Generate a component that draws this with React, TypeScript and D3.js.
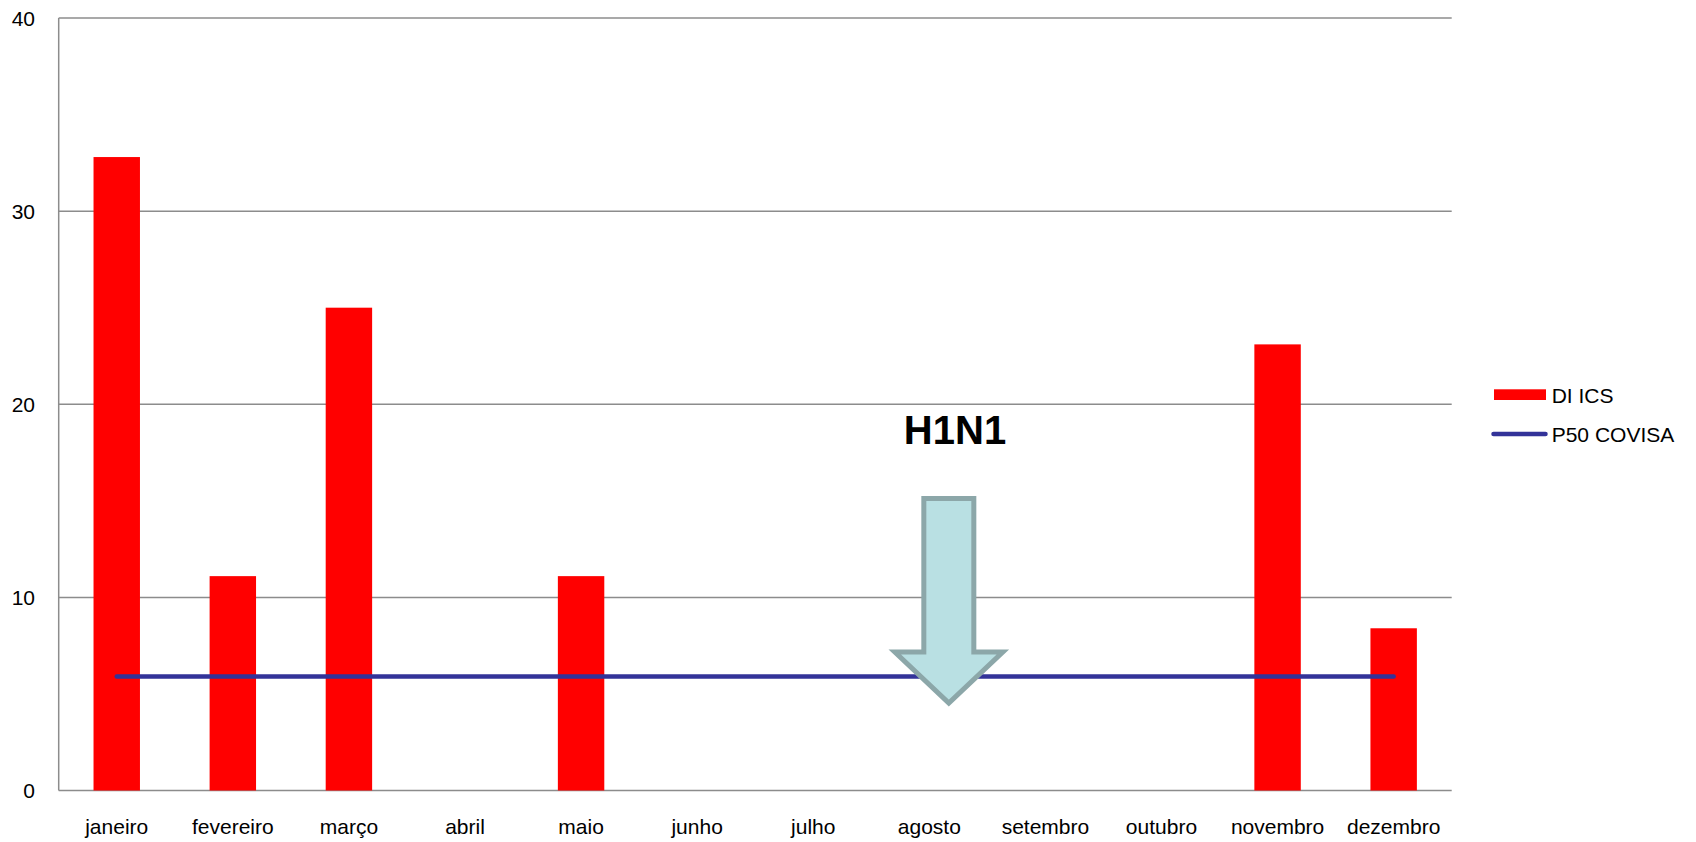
import React from "react";
import * as d3 from "d3";

const months = [
  "janeiro", "fevereiro", "março", "abril", "maio", "junho",
  "julho", "agosto", "setembro", "outubro", "novembro", "dezembro",
];
const diIcs = [32.8, 11.1, 25.0, 0, 11.1, 0, 0, 0, 0, 0, 23.1, 8.4];
const p50Covisa = [5.9, 5.9, 5.9, 5.9, 5.9, 5.9, 5.9, 5.9, 5.9, 5.9, 5.9, 5.9];
const yTicks = [0, 10, 20, 30, 40];
const seriesNames = ["DI ICS", "P50 COVISA"];
const annotationLabel = "H1N1";
const annotationMonth = "agosto";

const W = 1696;
const H = 842;
const M = { left: 58.7, right: 1451.7, top: 18, bottom: 790.5 };
const FONT = "'Liberation Sans', Arial, sans-serif";

export default function App() {
  const x = d3
    .scaleBand<string>()
    .domain(months)
    .range([M.left, M.right])
    .paddingInner(0.6)
    .paddingOuter(0.3);
  const band = d3.scaleBand<string>().domain(months).range([M.left, M.right]);
  const y = d3.scaleLinear().domain([0, 40]).range([M.bottom, M.top]);
  const cx = (m: string) => (band(m) as number) + band.bandwidth() / 2;

  const line = d3
    .line<number>()
    .x((_, i) => cx(months[i]))
    .y((d) => y(d));

  // Downward block arrow near the annotated month
  const ax = cx(annotationMonth) + 19.5;
  const shaftHalf = 25;
  const headHalf = 54;
  const shaftTop = 498.5;
  const headTop = 652;
  const tip = 703;
  const arrowPath = [
    [ax - shaftHalf, shaftTop],
    [ax + shaftHalf, shaftTop],
    [ax + shaftHalf, headTop],
    [ax + headHalf, headTop],
    [ax, tip],
    [ax - headHalf, headTop],
    [ax - shaftHalf, headTop],
  ];

  return (
    <svg
      width={W}
      height={H}
      style={{ position: "absolute", left: 0, top: 0, background: "#fff" }}
      fontFamily={FONT}
    >
      {/* gridlines */}
      {yTicks.map((t) => (
        <line
          key={t}
          x1={M.left}
          x2={M.right}
          y1={y(t)}
          y2={y(t)}
          stroke="#8c8c8c"
          strokeWidth={1.5}
        />
      ))}
      <line x1={M.left} x2={M.left} y1={M.top} y2={M.bottom} stroke="#8c8c8c" strokeWidth={1.5} />

      {/* y tick labels */}
      {yTicks.map((t) => (
        <text key={t} x={35} y={y(t) + 7.8} textAnchor="end" fontSize={21} fill="#000">
          {t}
        </text>
      ))}

      {/* bars */}
      {diIcs.map((v, i) =>
        v > 0 ? (
          <rect
            key={months[i]}
            x={x(months[i])}
            width={x.bandwidth()}
            y={y(v)}
            height={y(0) - y(v)}
            fill="#ff0000"
          />
        ) : null
      )}

      {/* P50 line */}
      <path
        d={line(p50Covisa) || ""}
        fill="none"
        stroke="#333399"
        strokeWidth={4.5}
        strokeLinecap="round"
      />

      {/* x labels */}
      {months.map((m) => (
        <text key={m} x={cx(m)} y={834} textAnchor="middle" fontSize={21} fill="#000">
          {m}
        </text>
      ))}

      {/* annotation */}
      <text x={955} y={444} textAnchor="middle" fontSize={40} fontWeight="bold" fill="#000">
        {annotationLabel}
      </text>
      <polygon
        points={arrowPath.map((p) => p.join(",")).join(" ")}
        fill="#b9e0e3"
        stroke="#8ca7a9"
        strokeWidth={5}
        strokeLinejoin="miter"
      />

      {/* legend */}
      <rect x={1494} y={389.3} width={52} height={10.7} fill="#ff0000" />
      <text x={1551.7} y={402.7} fontSize={21} fill="#000">
        {seriesNames[0]}
      </text>
      <line
        x1={1493.5}
        x2={1545.5}
        y1={434}
        y2={434}
        stroke="#333399"
        strokeWidth={4.5}
        strokeLinecap="round"
      />
      <text x={1551.7} y={441.7} fontSize={21} fill="#000">
        {seriesNames[1]}
      </text>
    </svg>
  );
}
